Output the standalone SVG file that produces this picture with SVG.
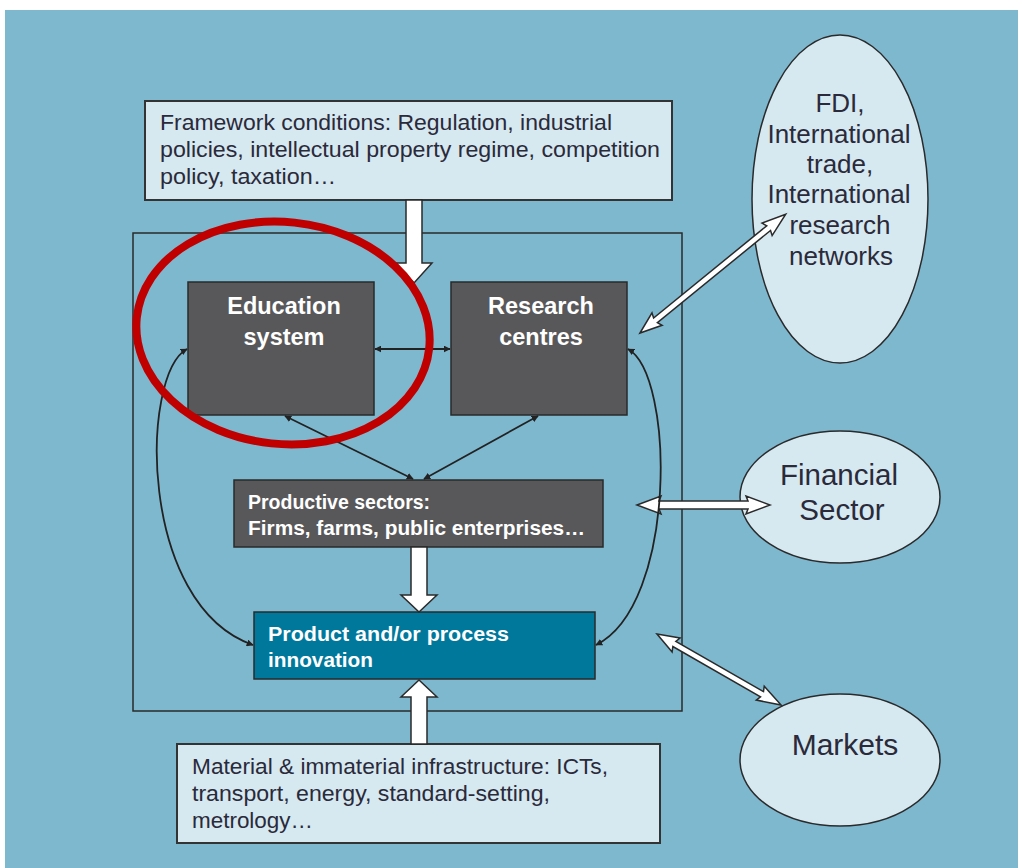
<svg xmlns="http://www.w3.org/2000/svg" width="1018" height="868" viewBox="0 0 1018 868">
<defs>
<style>
.light{fill:#D6E8F0;stroke:#333;stroke-width:2}
.dark{fill:#58585A;stroke:#2a2a2a;stroke-width:1.5}
.teal{fill:#00789C;stroke:#2a2a2a;stroke-width:1.5}
.ell{fill:#D6E8F0;stroke:#2a2a2a;stroke-width:1.5}
.t{font-family:"Liberation Sans",Arial,sans-serif;fill:#2A2A3A}
.w{font-family:"Liberation Sans",Arial,sans-serif;fill:#FFFFFF}
.blk{fill:#FFFFFF;stroke:#2a2a2a;stroke-width:1.5;stroke-linejoin:miter}
.thin{fill:none;stroke:#222;stroke-width:1.8}
</style>
<marker id="ah" viewBox="0 0 10 10" refX="9" refY="5" markerWidth="7" markerHeight="7" orient="auto-start-reverse" markerUnits="userSpaceOnUse">
<path d="M0,0 L10,5 L0,10 z" fill="#222"/>
</marker>
</defs>
<rect x="0" y="0" width="1018" height="868" fill="#FFFFFF"/>
<rect x="5" y="10" width="1013" height="858" fill="#7EB8CF"/>

<g id="system-boundary">
<rect x="133" y="233" width="549" height="478" fill="none" stroke="#2a2a2a" stroke-width="1.5"/>
</g>

<g id="framework">
<rect class="light" x="145" y="101" width="527" height="99"/>
<text class="t" font-size="21.5" x="160" y="130" textLength="452" lengthAdjust="spacingAndGlyphs">Framework conditions: Regulation, industrial</text>
<text class="t" font-size="21.5" x="160" y="157" textLength="500" lengthAdjust="spacingAndGlyphs">policies, intellectual property regime, competition</text>
<text class="t" font-size="21.5" x="160" y="184" textLength="176" lengthAdjust="spacingAndGlyphs">policy, taxation…</text>
</g>

<g id="education">
<rect class="dark" x="188" y="282" width="186" height="133"/>
<text class="w" font-size="23.5" font-weight="bold" text-anchor="middle" x="284" y="314">Education</text>
<text class="w" font-size="23.5" font-weight="bold" text-anchor="middle" x="284" y="345">system</text>
</g>

<g id="research">
<rect class="dark" x="451" y="282" width="176" height="133"/>
<text class="w" font-size="23.5" font-weight="bold" text-anchor="middle" x="541" y="314">Research</text>
<text class="w" font-size="23.5" font-weight="bold" text-anchor="middle" x="541" y="345">centres</text>
</g>

<g id="productive">
<rect class="dark" x="234" y="480" width="369" height="67"/>
<text class="w" font-size="19.5" font-weight="bold" x="248" y="509">Productive sectors:</text>
<text class="w" font-size="19.5" font-weight="bold" x="248" y="535" textLength="337" lengthAdjust="spacingAndGlyphs">Firms, farms, public enterprises…</text>
</g>

<g id="innovation">
<rect class="teal" x="254" y="612" width="341" height="67"/>
<text class="w" font-size="20" font-weight="bold" x="268" y="641" textLength="241" lengthAdjust="spacingAndGlyphs">Product and/or process</text>
<text class="w" font-size="20" font-weight="bold" x="268" y="667" textLength="105" lengthAdjust="spacingAndGlyphs">innovation</text>
</g>

<g id="infrastructure">
<rect class="light" x="177" y="744" width="483" height="99"/>
<text class="t" font-size="21.5" x="192" y="774" textLength="416" lengthAdjust="spacingAndGlyphs">Material &amp; immaterial infrastructure: ICTs,</text>
<text class="t" font-size="21.5" x="192" y="801" textLength="358" lengthAdjust="spacingAndGlyphs">transport, energy, standard-setting,</text>
<text class="t" font-size="21.5" x="192" y="828" textLength="121" lengthAdjust="spacingAndGlyphs">metrology…</text>
</g>

<g id="fdi">
<ellipse class="ell" cx="840" cy="199" rx="88" ry="164"/>
<g class="t" font-size="26" text-anchor="middle">
<text x="840" y="112">FDI,</text>
<text x="839" y="143">International</text>
<text x="840" y="173">trade,</text>
<text x="839" y="203">International</text>
<text x="840" y="234">research</text>
<text x="841" y="265">networks</text>
</g>
</g>

<g id="financial">
<ellipse class="ell" cx="840" cy="497" rx="100" ry="66"/>
<text class="t" font-size="29.5" text-anchor="middle" x="839" y="485">Financial</text>
<text class="t" font-size="29.5" text-anchor="middle" x="842" y="520">Sector</text>
</g>

<g id="markets">
<ellipse class="ell" cx="840" cy="760" rx="100" ry="66"/>
<text class="t" font-size="30" text-anchor="middle" x="845" y="755">Markets</text>
</g>

<g id="connectors">
<polygon class="blk" points="406,200 422,200 422,263 432,263 414,283 396,263 406,263"/>
<polygon class="blk" points="411,547 427,547 427,595 437,595 419,612 401,595 411,595"/>
<polygon class="blk" points="411,744 427,744 427,697 437,697 419,680 401,697 411,697"/>
<polygon class="blk" transform="translate(640,333) rotate(-39.2)" points="0,0 22,-8 20,-3 166,-3 164,-8 188,0 164,8 166,3 20,3 22,8"/>
<polygon class="blk" transform="translate(637,505)" points="0,0 24,-9 22,-4 111,-4 109,-9 133,0 109,9 111,4 22,4 24,9"/>
<polygon class="blk" transform="translate(657,634) rotate(29.8)" points="0,0 22,-8 20,-3 121,-3 119,-8 143,0 119,8 121,3 20,3 22,8"/>
<line class="thin" x1="375" y1="349" x2="450" y2="349" marker-start="url(#ah)" marker-end="url(#ah)"/>
<line class="thin" x1="285" y1="416" x2="413" y2="479" marker-start="url(#ah)" marker-end="url(#ah)"/>
<line class="thin" x1="538" y1="416" x2="424" y2="479" marker-start="url(#ah)" marker-end="url(#ah)"/>
<path class="thin" d="M187,349 C140,375 138,605 253,645" marker-start="url(#ah)" marker-end="url(#ah)"/>
<path class="thin" d="M628,349 C675,375 677,605 596,645" marker-start="url(#ah)" marker-end="url(#ah)"/>
</g>

<g id="highlight">
<ellipse cx="283" cy="333" rx="147" ry="111" transform="rotate(6 283 333)" fill="none" stroke="#C00000" stroke-width="8"/>
</g>
</svg>
